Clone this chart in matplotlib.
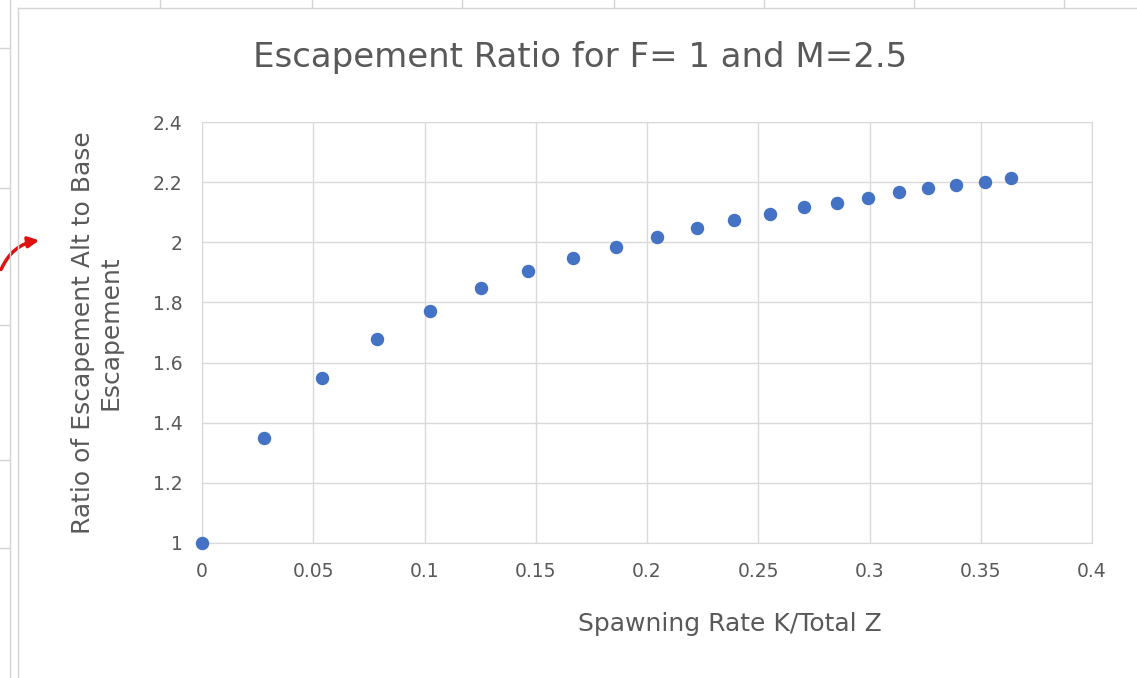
import matplotlib
matplotlib.use('Agg')
import matplotlib.pyplot as plt
from matplotlib.patches import FancyArrowPatch

spawn_rate = [0, 0.0279, 0.0539, 0.0787, 0.1025, 0.1254, 0.1465, 0.1667, 0.1861, 0.2045,
              0.2225, 0.2391, 0.2553, 0.2706, 0.2854, 0.2993, 0.3133, 0.3263, 0.3389, 0.3519, 0.3636]
esc_ratio = [1.0, 1.349, 1.549, 1.679, 1.772, 1.848, 1.905, 1.948, 1.985, 2.018,
             2.048, 2.075, 2.095, 2.118, 2.131, 2.148, 2.168, 2.181, 2.191, 2.201, 2.214]

W, H = 1137, 678
fig = plt.figure(figsize=(W / 100, H / 100), dpi=100)

# spreadsheet cell lines behind the chart
for x in [160, 312, 462, 614, 764, 914, 1064]:
    fig.add_artist(plt.Line2D([x / W, x / W], [1 - 8 / H, 1], color='#d4d4d4', lw=1))
fig.add_artist(plt.Line2D([10 / W, 10 / W], [0, 1], color='#d4d4d4', lw=1))
fig.add_artist(plt.Line2D([18 / W, 18 / W], [0, 1 - 8 / H], color='#d4d4d4', lw=1))
fig.add_artist(plt.Line2D([18 / W, 1], [1 - 8 / H, 1 - 8 / H], color='#d4d4d4', lw=1))
for y in [48, 188, 325, 460, 548]:
    fig.add_artist(plt.Line2D([0, 10 / W], [1 - y / H, 1 - y / H], color='#d4d4d4', lw=1))

# red arrow pointing at the y label
fig.add_artist(FancyArrowPatch((0 / W, 1 - 272 / H), (42 / W, 1 - 240 / H),
                               connectionstyle='arc3,rad=-0.3', arrowstyle='-|>',
                               mutation_scale=16, color='#e01010', lw=2.5))

ax = fig.add_axes([202 / W, 1 - 543 / H, 890 / W, 421 / H])
ax.scatter(spawn_rate, esc_ratio, s=75, color='#4472c4', zorder=3, clip_on=False)
ax.set_xlim(0, 0.4)
ax.set_ylim(1, 2.4)
ax.set_xticks([0, 0.05, 0.1, 0.15, 0.2, 0.25, 0.3, 0.35, 0.4])
ax.set_xticklabels(['0', '0.05', '0.1', '0.15', '0.2', '0.25', '0.3', '0.35', '0.4'])
ax.set_yticks([1, 1.2, 1.4, 1.6, 1.8, 2, 2.2, 2.4])
ax.set_yticklabels(['1', '1.2', '1.4', '1.6', '1.8', '2', '2.2', '2.4'])
ax.grid(True, color='#d9d9d9', lw=1)
ax.set_axisbelow(True)
for s in ax.spines.values():
    s.set_color('#d9d9d9')
ax.tick_params(length=0, labelsize=13.5, labelcolor='#595959', pad=14)

fig.text(580 / W, 1 - 57 / H, 'Escapement Ratio for F= 1 and M=2.5', fontsize=24.5,
         color='#595959', ha='center', va='center')
fig.text(730 / W, 1 - 624 / H, 'Spawning Rate K/Total Z', fontsize=18,
         color='#595959', ha='center', va='center')
fig.text(97 / W, 1 - 333 / H, 'Ratio of Escapement Alt to Base\nEscapement', fontsize=18,
         color='#595959', ha='center', va='center', rotation=90, linespacing=1.2)

fig.savefig('out.png', dpi=100)
